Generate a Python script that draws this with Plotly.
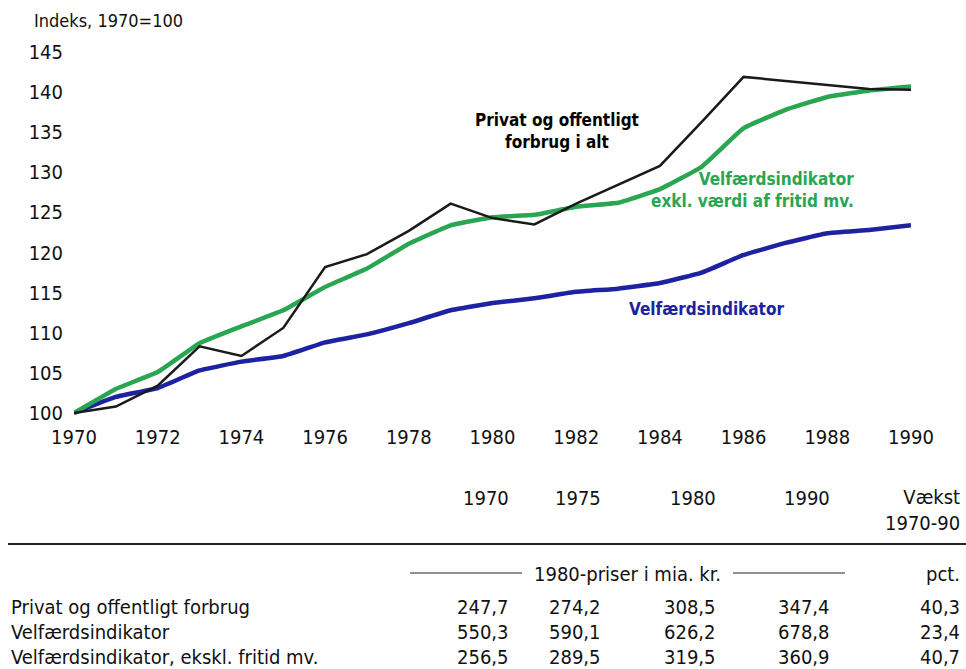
import plotly.graph_objects as go

# ---------------- data ----------------
years = list(range(1970, 1991))
privat = [100, 100.8, 103.4, 108.3, 107.1, 110.6, 118.2, 119.8, 122.7, 126.1, 124.3,
          123.5, 126.1, 128.4, 130.8, 136.3, 141.9, 141.4, 140.9, 140.4, 140.3]
velfaerd = [100, 102.0, 103.1, 105.3, 106.4, 107.1, 108.8, 109.8, 111.2, 112.8, 113.7,
            114.3, 115.1, 115.5, 116.2, 117.5, 119.7, 121.2, 122.4, 122.8, 123.4]
velfaerd_excl = [100, 103.0, 105.1, 108.7, 110.8, 112.8, 115.7, 118.0, 121.1, 123.4, 124.4,
                 124.7, 125.7, 126.2, 127.9, 130.7, 135.5, 137.8, 139.4, 140.2, 140.7]

x_ticks = list(range(1970, 1991, 2))
y_ticks = list(range(100, 146, 5))

table_years = ["1970", "1975", "1980", "1990"]
table_rows = ["Privat og offentligt forbrug", "Velfærdsindikator", "Velfærdsindikator, ekskl. fritid mv."]
tbl_privat = [247.7, 274.2, 308.5, 347.4]
tbl_velfaerd = [550.3, 590.1, 626.2, 678.8]
tbl_excl = [256.5, 289.5, 319.5, 360.9]
growth = [40.3, 23.4, 40.7]

# ---------------- layout geometry ----------------
W, H = 966, 669
PLOT_LEFT, PLOT_RIGHT, PLOT_TOP, PLOT_BOTTOM = 74, 911, 44, 421
L, R, T, B = PLOT_LEFT, W - PLOT_RIGHT, PLOT_TOP, H - PLOT_BOTTOM
PW, PH = W - L - R, H - T - B

def px(x):  # window pixels -> paper
    return (x - L) / PW

def py(y):
    return (H - B - y) / PH

FONT = "Liberation Sans Narrow, Arial Narrow, DejaVu Sans Condensed, Liberation Sans, sans-serif"
BLUE = "#1c22a0"
GREEN = "#2aa552"
BLACK = "#1a1a1a"

fig = go.Figure()
fig.add_trace(go.Scatter(x=years, y=velfaerd, mode="lines",
                         line=dict(color=BLUE, width=4.5, shape="spline", smoothing=0.3),
                         name="Velfærdsindikator"))
fig.add_trace(go.Scatter(x=years, y=velfaerd_excl, mode="lines",
                         line=dict(color=GREEN, width=4.5, shape="spline", smoothing=0.3),
                         name="Velfærdsindikator exkl. værdi af fritid mv."))
fig.add_trace(go.Scatter(x=years, y=privat, mode="lines",
                         line=dict(color=BLACK, width=2.5),
                         name="Privat og offentligt forbrug i alt"))

ann = []
LF = 17
ann.append(dict(x=px(557), y=py(131), xref="paper", yref="paper",
                text="<b>Privat og offentligt<br>forbrug i alt</b>", showarrow=False,
                font=dict(family=FONT, size=LF, color="#000"), align="center",
                xanchor="center", yanchor="middle"))
ann.append(dict(x=px(856), y=py(190), xref="paper", yref="paper",
                text="<b>Velfærdsindikator<br>exkl. værdi af fritid mv.</b>", showarrow=False,
                font=dict(family=FONT, size=LF, color=GREEN), align="right",
                xanchor="right", yanchor="middle"))
ann.append(dict(x=px(706), y=py(309), xref="paper", yref="paper",
                text="<b>Velfærdsindikator</b>", showarrow=False,
                font=dict(family=FONT, size=LF, color=BLUE), align="center",
                xanchor="center", yanchor="middle"))
ann.append(dict(x=px(32), y=py(21), xref="paper", yref="paper",
                text="Indeks, 1970=100", showarrow=False,
                font=dict(family=FONT, size=18, color="#111"),
                xanchor="left", yanchor="middle"))

# table
col_right = [511, 603, 718, 832]
growth_right = 962
TF = dict(family=FONT, size=20, color="#111")
for i, yr in enumerate(table_years):
    ann.append(dict(x=px(col_right[i]), y=py(498), xref="paper", yref="paper", text=yr,
                    showarrow=False, font=TF, xanchor="right", yanchor="middle"))
ann.append(dict(x=px(growth_right), y=py(510), xref="paper", yref="paper",
                text="Vækst<br>1970-90", showarrow=False, font=TF, align="right",
                xanchor="right", yanchor="middle"))
ann.append(dict(x=px(627), y=py(574), xref="paper", yref="paper",
                text="1980-priser i mia. kr.", showarrow=False, font=TF,
                xanchor="center", yanchor="middle"))
ann.append(dict(x=px(growth_right), y=py(574), xref="paper", yref="paper",
                text="pct.", showarrow=False, font=TF, xanchor="right", yanchor="middle"))

row_y = [607, 632, 657]
all_vals = [tbl_privat, tbl_velfaerd, tbl_excl]
def fmt(v):
    return f"{v:.1f}".replace(".", ",")
for r, name in enumerate(table_rows):
    ann.append(dict(x=px(9), y=py(row_y[r]), xref="paper", yref="paper", text=name,
                    showarrow=False, font=TF, xanchor="left", yanchor="middle"))
    for c, v in enumerate(all_vals[r]):
        ann.append(dict(x=px(col_right[c]), y=py(row_y[r]), xref="paper", yref="paper",
                        text=fmt(v), showarrow=False, font=TF, xanchor="right", yanchor="middle"))
    ann.append(dict(x=px(growth_right), y=py(row_y[r]), xref="paper", yref="paper",
                    text=fmt(growth[r]), showarrow=False, font=TF, xanchor="right", yanchor="middle"))

shapes = [
    dict(type="line", xref="paper", yref="paper", x0=px(8), x1=px(966), y0=py(544), y1=py(544),
         line=dict(color="#222", width=2)),
    dict(type="line", xref="paper", yref="paper", x0=px(410), x1=px(522), y0=py(573), y1=py(573),
         line=dict(color="#222", width=1)),
    dict(type="line", xref="paper", yref="paper", x0=px(733), x1=px(845), y0=py(573), y1=py(573),
         line=dict(color="#222", width=1)),
]

fig.update_layout(
    width=W, height=H,
    margin=dict(l=L, r=R, t=T, b=B),
    paper_bgcolor="white", plot_bgcolor="white",
    showlegend=False,
    font=dict(family=FONT, size=19, color="#111"),
    annotations=ann, shapes=shapes,
    xaxis=dict(range=[1970, 1990], tickvals=x_ticks, ticktext=[str(t) for t in x_ticks],
               showgrid=False, zeroline=False, showline=False, ticks="",
               ticklabelstandoff=2, tickfont=dict(family=FONT, size=20, color="#111")),
    yaxis=dict(range=[99, 146], tickvals=y_ticks, showgrid=False, zeroline=False,
               showline=False, ticks="", ticklabelstandoff=10,
               tickfont=dict(family=FONT, size=20, color="#111")),
)

fig.write_html("out.html", config={"displayModeBar": False},
               post_script="document.body.style.margin='0';document.body.style.overflow='hidden';")
